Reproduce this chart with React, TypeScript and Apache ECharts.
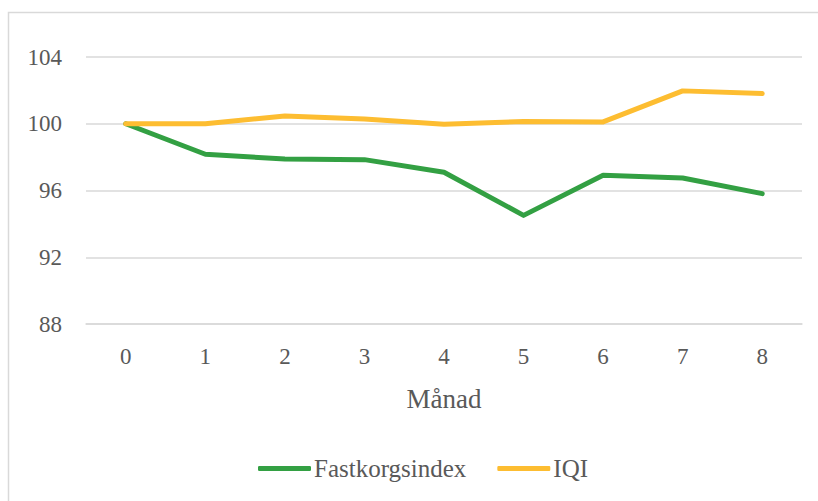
import React, { useEffect, useRef } from "react";
import * as echarts from "echarts";

const months = ["0", "1", "2", "3", "4", "5", "6", "7", "8"];
const fastkorgsindex = [100, 98.17, 97.89, 97.85, 97.09, 94.51, 96.91, 96.75, 95.81];
const iqi = [100, 100, 100.47, 100.29, 99.97, 100.13, 100.11, 101.97, 101.81];
const yTicks = { min: 88, max: 104, interval: 4 };

const FONT = "Liberation Serif";
const TXT = "#595959";

export default function App() {
  const ref = useRef<HTMLDivElement>(null);
  useEffect(() => {
    const chart = echarts.init(ref.current!, undefined, { renderer: "svg" });
    chart.setOption({
      animation: false,
      backgroundColor: "#ffffff",
      graphic: [
        {
          type: "rect",
          shape: { x: 8.5, y: 12.5, width: 830, height: 520 },
          style: { fill: "none", stroke: "#d9d9d9", lineWidth: 1.5 },
          silent: true,
        },
      ],
      grid: { left: 86, right: 16, top: 57, bottom: 177 },
      xAxis: {
        type: "category",
        data: months,
        boundaryGap: true,
        axisLine: { show: true, lineStyle: { color: "#d9d9d9", width: 1.5 } },
        axisTick: { show: false },
        axisLabel: { color: TXT, fontFamily: FONT, fontSize: 23, margin: 21 },
        name: "Månad",
        nameLocation: "middle",
        nameGap: 61,
        nameTextStyle: { color: TXT, fontFamily: FONT, fontSize: 27 },
      },
      yAxis: {
        type: "value",
        min: yTicks.min,
        max: yTicks.max,
        interval: yTicks.interval,
        axisLine: { show: false },
        axisTick: { show: false },
        splitLine: { lineStyle: { color: "#d9d9d9", width: 1.5 } },
        axisLabel: { color: TXT, fontFamily: FONT, fontSize: 23, margin: 24 },
      },
      legend: {
        left: 253,
        top: 451,
        itemWidth: 53,
        itemHeight: 5,
        itemGap: 31,
        icon: "roundRect",
        textStyle: { color: TXT, fontFamily: FONT, fontSize: 25, padding: [0, 0, 0, -2] },
        data: ["Fastkorgsindex", "IQI"],
      },
      series: [
        {
          name: "Fastkorgsindex",
          type: "line",
          data: fastkorgsindex,
          symbol: "none",
          lineStyle: { color: "#33a043", width: 5, cap: "round", join: "round" },
          itemStyle: { color: "#33a043" },
        },
        {
          name: "IQI",
          type: "line",
          data: iqi,
          symbol: "none",
          lineStyle: { color: "#fdbd31", width: 5, cap: "round", join: "round" },
          itemStyle: { color: "#fdbd31" },
        },
      ],
    });
    return () => chart.dispose();
  }, []);
  return (
    <div
      ref={ref}
      style={{ position: "fixed", left: 0, top: 0, width: 818, height: 501 }}
    />
  );
}
